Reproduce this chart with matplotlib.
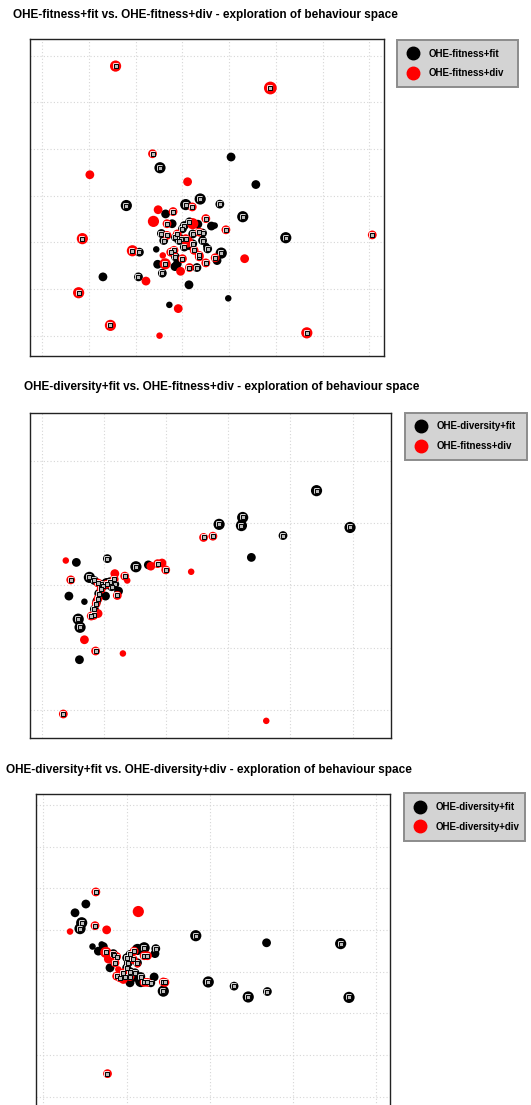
"""Behaviour-space exploration: three pairwise comparisons of OHE runs, stacked vertically.

Each point is one elite in behaviour space; circle size = relative weight, a grey square
marks the points that were kept in the final archive.
"""
import numpy as np
import matplotlib
matplotlib.use("Agg")
import matplotlib.pyplot as plt
import matplotlib.patheffects as pe
from matplotlib.lines import Line2D

plt.rcParams["font.family"] = ["Liberation Sans", "DejaVu Sans"]

W_PX, H_PX, DPI = 531, 1105, 100

# ---------------------------------------------------------------- panel 1
P1_TITLE = "OHE-fitness+fit vs. OHE-fitness+div - exploration of behaviour space"
P1_LABELS = ["OHE-fitness+fit", "OHE-fitness+div"]
P1_A_X = [4.04, 2.52, 4.57, 1.80, 3.07, 3.38, 3.80, 4.29, 5.21, 2.08, 2.44, 1.30, 2.06, 2.57,
          2.47, 3.14, 2.72, 3.98, 3.83, 3.74, 3.31, 2.84, 2.64, 3.62, 3.33, 2.55, 3.51, 3.69,
          2.60, 2.85, 3.15, 3.04, 2.78, 3.43, 3.54, 2.89, 2.96, 3.22, 3.15, 3.00, 2.93, 3.22,
          3.04, 2.85, 3.43]
P1_A_Y = [3.83, 3.60, 3.24, 2.79, 2.81, 2.93, 2.82, 2.55, 2.10, 1.79, 1.85, 1.26, 1.26, 1.34,
          1.53, 1.09, 0.66, 0.80, 1.77, 1.61, 1.46, 1.48, 2.61, 2.35, 2.39, 2.19, 1.92, 2.36,
          2.04, 2.11, 1.93, 2.36, 2.40, 2.04, 1.86, 1.54, 2.08, 2.18, 2.44, 2.29, 2.04, 1.97,
          1.90, 1.69, 2.20]
P1_A_W = [2, 3, 2, 3, 3, 3, 2, 3, 3, 2, 1, 2, 2, 2, 2, 2, 1, 1, 3, 2, 2, 2, 2, 2, 2, 2, 1, 1,
          2, 2, 2, 2, 2, 2, 2, 2, 2, 2, 2, 2, 2, 2, 2, 2, 2]
P1_A_KEPT = [0, 1, 0, 1, 1, 1, 1, 1, 1, 1, 0, 0, 1, 1, 0, 0, 0, 0, 1, 0, 1, 0, 0, 0, 0, 1, 0, 0,
             1, 1, 0, 1, 0, 1, 1, 0, 1, 1, 1, 1, 1, 1, 1, 1, 1]
P1_B_X = [1.57, 4.88, 2.36, 1.02, 3.11, 0.86, 7.06, 1.93, 2.22, 4.33, 0.78, 2.91, 1.46, 2.51,
          5.66, 2.48, 2.38, 2.80, 3.21, 3.50, 3.93, 3.70, 3.50, 3.15, 2.63, 2.96, 2.58, 2.67,
          2.89, 3.22, 3.36, 3.25, 2.82, 2.67, 3.00, 3.36, 3.11, 3.07, 3.36, 2.75]
P1_B_Y = [5.78, 5.31, 3.90, 3.45, 3.30, 2.08, 2.16, 1.82, 1.17, 1.65, 0.92, 0.58, 0.22, 0.00,
          0.06, 2.70, 2.45, 2.66, 2.76, 2.51, 2.27, 1.67, 1.56, 1.46, 1.54, 1.38, 1.72, 2.40,
          2.18, 2.40, 2.22, 1.83, 1.83, 2.15, 1.65, 1.69, 2.01, 2.08, 1.72, 1.79]
P1_B_W = [3, 4, 2, 2, 2, 3, 2, 3, 2, 2, 3, 2, 3, 1, 3, 2, 3, 2, 2, 2, 2, 2, 2, 2, 3, 2, 1, 2,
          2, 3, 2, 2, 2, 2, 2, 2, 3, 2, 2, 2]
P1_B_KEPT = [1, 1, 1, 0, 0, 1, 1, 1, 0, 0, 1, 0, 1, 0, 1, 0, 0, 1, 1, 1, 1, 1, 1, 1, 1, 0, 0, 1,
             1, 0, 1, 1, 1, 1, 1, 1, 0, 1, 1, 1]

# ---------------------------------------------------------------- panel 2
P2_TITLE = "OHE-diversity+fit vs. OHE-fitness+div - exploration of behaviour space"
P2_LABELS = ["OHE-diversity+fit", "OHE-fitness+div"]
P2_A_X = [4.42, 4.96, 3.23, 3.21, 2.85, 3.88, 3.37, 1.05, 0.55, 1.51, 1.71, 0.43, 0.68, 0.58,
          0.61, 0.60, 0.76, 0.84, 0.94, 0.98, 1.09, 1.17, 1.12, 0.91, 0.84, 1.02, 1.23, 0.88,
          1.04]
P2_A_Y = [3.52, 2.93, 3.09, 2.96, 2.98, 2.80, 2.45, 2.43, 2.37, 2.30, 2.33, 1.83, 1.74, 1.46,
          1.33, 0.81, 2.13, 2.08, 2.02, 1.99, 2.06, 2.02, 1.98, 1.87, 1.62, 1.83, 1.91, 1.75,
          2.03]
P2_A_W = [3, 3, 3, 3, 3, 2, 2, 2, 2, 3, 2, 2, 1, 3, 3, 2, 3, 2, 2, 2, 2, 2, 2, 2, 2, 2, 2, 2, 3]
P2_A_KEPT = [1, 1, 1, 1, 1, 1, 0, 1, 0, 1, 0, 0, 0, 1, 1, 0, 1, 1, 1, 1, 1, 1, 1, 1, 1, 0, 0, 0,
             0]
P2_B_X = [0.38, 0.46, 2.60, 2.75, 2.40, 1.86, 1.93, 1.99, 1.75, 1.33, 1.17, 1.37, 1.21, 0.68,
          0.86, 1.30, 0.34, 3.61, 0.90, 1.04, 1.16, 0.95, 0.90, 0.87, 0.83, 0.79, 0.90]
P2_B_Y = [2.40, 2.09, 2.77, 2.79, 2.22, 2.35, 2.36, 2.25, 2.31, 2.15, 2.19, 2.08, 1.84, 1.13,
          0.95, 0.91, -0.06, -0.17, 2.04, 2.02, 2.10, 1.94, 1.79, 1.71, 1.52, 1.51, 1.55]
P2_B_W = [1, 2, 2, 2, 1, 2, 2, 2, 2, 2, 2, 1, 2, 2, 2, 1, 2, 1, 2, 2, 2, 2, 2, 2, 2, 2, 2]
P2_B_KEPT = [0, 1, 1, 1, 0, 1, 0, 1, 0, 1, 0, 0, 1, 0, 1, 0, 1, 0, 1, 1, 1, 1, 1, 1, 1, 1, 0]

# ---------------------------------------------------------------- panel 3
P3_TITLE = "OHE-diversity+fit vs. OHE-diversity+div - exploration of behaviour space"
P3_LABELS = ["OHE-diversity+fit", "OHE-diversity+div"]
P3_A_X = [0.51, 0.38, 0.46, 0.44, 1.83, 2.68, 3.57, 0.59, 0.70, 0.66, 1.35, 1.34, 1.15, 1.98,
          2.29, 2.46, 2.69, 3.67, 1.44, 1.33, 1.29, 0.80, 1.10, 0.72, 1.13, 1.21, 1.17, 1.04,
          0.84, 1.00, 1.04, 1.02, 1.00, 1.04, 0.98, 1.10, 1.17, 1.13]
P3_A_Y = [4.62, 4.41, 4.17, 4.03, 3.86, 3.69, 3.67, 3.60, 3.65, 3.49, 3.55, 3.43, 3.53, 2.75,
          2.65, 2.39, 2.52, 2.38, 2.53, 2.87, 2.73, 3.09, 2.89, 3.60, 3.53, 3.57, 2.76, 2.73,
          3.43, 3.33, 3.41, 3.21, 3.09, 3.00, 2.88, 2.97, 2.88, 3.21]
P3_A_W = [2, 2, 3, 3, 3, 2, 3, 1, 1, 2, 2, 2, 2, 3, 2, 3, 2, 3, 3, 2, 2, 2, 3, 2, 3, 3, 3, 2,
          2, 2, 2, 2, 2, 2, 2, 2, 2, 2]
P3_A_KEPT = [0, 0, 1, 1, 1, 0, 1, 0, 0, 0, 1, 0, 0, 1, 1, 1, 1, 1, 1, 0, 1, 0, 0, 0, 0, 1, 0, 0,
             1, 1, 1, 1, 1, 1, 1, 1, 1, 1]
P3_B_X = [0.63, 1.14, 0.62, 0.76, 0.32, 0.77, 0.75, 0.85, 0.78, 1.21, 1.08, 1.13, 1.21, 1.44,
          0.88, 0.96, 0.90, 0.88, 0.86, 1.25, 0.96, 0.92, 1.04, 1.25, 1.46, 1.09]
P3_B_Y = [4.91, 4.44, 4.10, 4.00, 3.96, 0.55, 3.46, 3.39, 3.30, 3.38, 3.29, 3.17, 2.74, 2.75,
          2.89, 2.81, 3.05, 3.36, 3.21, 3.38, 2.97, 2.85, 2.88, 2.74, 2.74, 3.49]
P3_B_W = [2, 3, 2, 2, 1, 2, 3, 2, 2, 2, 2, 1, 2, 2, 2, 2, 1, 2, 2, 2, 2, 2, 2, 2, 2, 2]
P3_B_KEPT = [1, 0, 1, 0, 0, 1, 1, 1, 0, 1, 1, 0, 1, 1, 1, 0, 0, 1, 1, 1, 1, 1, 1, 1, 1, 1]

COLORS = ["#000000", "#ff0000"]
DIAM_PX = {1: 6.5, 2: 8.8, 3: 11.2, 4: 12.8}   # circle diameter per weight class


def _px(v):
    return v * 72.0 / DPI


def _scatter_series(ax, x, y, w, color):
    d = np.array([_px(DIAM_PX[k]) for k in w])
    ax.scatter(x, y, s=d ** 2, c=color, linewidths=0, zorder=3)


def _scatter_kept(ax, series):
    xs, ys = [], []
    for x, y, kept in series:
        m = np.asarray(kept, bool)
        xs.append(np.asarray(x)[m]); ys.append(np.asarray(y)[m])
    sq = ax.scatter(np.concatenate(xs), np.concatenate(ys), marker="s", s=_px(4.0) ** 2,
                    facecolor="#bcbcbc", edgecolor="black", linewidths=0.7, zorder=5)
    sq.set_path_effects([pe.Stroke(linewidth=1.2, foreground="white"), pe.Normal()])


def panel(fig, rect_px, lims, nticks, title, title_px, legend_px, labels, a, b):
    l, t, r, btm = rect_px
    ax = fig.add_axes([l / W_PX, 1 - btm / H_PX, (r - l) / W_PX, (btm - t) / H_PX])
    _scatter_series(ax, a[0], a[1], a[2], COLORS[0])
    _scatter_series(ax, b[0], b[1], b[2], COLORS[1])
    _scatter_kept(ax, [(a[0], a[1], a[3]), (b[0], b[1], b[3])])
    ax.set_xlim(*lims[0]); ax.set_ylim(*lims[1])
    ax.set_xticks(np.arange(nticks[0])); ax.set_yticks(np.arange(nticks[1]))
    ax.tick_params(length=0, labelbottom=False, labelleft=False)
    ax.grid(True, color="#d6d6d6", linestyle=(0, (1, 2)), linewidth=0.8)
    ax.set_axisbelow(True)
    for s in ax.spines.values():
        s.set_color("#222222"); s.set_linewidth(1.0)
    fig.text(title_px[0] / W_PX, 1 - title_px[1] / H_PX, title, fontsize=8.5, fontweight="bold",
             ha="left", va="center")
    handles = [Line2D([], [], marker="o", ls="", color=c, markersize=9) for c in COLORS]
    ll, lt, lw, lh = legend_px
    leg = fig.legend(handles, labels, loc="upper left", mode="expand",
                     bbox_to_anchor=(ll / W_PX, 1 - (lt + lh) / H_PX, lw / W_PX, lh / H_PX),
                     borderaxespad=0, prop={"weight": "bold", "size": 7}, borderpad=0.9,
                     labelspacing=1.0, handlelength=1.4, handletextpad=1.0,
                     fancybox=False, framealpha=1, facecolor="#d3d3d3", edgecolor="#8c8c8c")
    leg.get_frame().set_linewidth(1.4)
    return ax


def main():
    fig = plt.figure(figsize=(W_PX / DPI, H_PX / DPI), dpi=DPI)
    panel(fig, (30, 39.5, 383.5, 355.7), ((-0.26, 7.30), (-0.43, 6.35)), (8, 7),
          P1_TITLE, (12.9, 15), (397, 40, 121, 47), P1_LABELS,
          (P1_A_X, P1_A_Y, P1_A_W, P1_A_KEPT), (P1_B_X, P1_B_Y, P1_B_W, P1_B_KEPT))
    panel(fig, (29.8, 413.3, 391.0, 737.7), ((-0.20, 5.62), (-0.44, 4.76)), (6, 5),
          P2_TITLE, (24.4, 387.3), (405, 412.7, 122, 49), P2_LABELS,
          (P2_A_X, P2_A_Y, P2_A_W, P2_A_KEPT), (P2_B_X, P2_B_Y, P2_B_W, P2_B_KEPT))
    panel(fig, (36.3, 794, 389.8, 1112), ((-0.085, 4.16), (-0.37, 7.26)), (5, 8),
          P3_TITLE, (6.1, 770), (404, 793.3, 121, 47), P3_LABELS,
          (P3_A_X, P3_A_Y, P3_A_W, P3_A_KEPT), (P3_B_X, P3_B_Y, P3_B_W, P3_B_KEPT))
    fig.savefig("out.png", dpi=DPI)
    plt.close(fig)


if __name__ == "__main__":
    main()
